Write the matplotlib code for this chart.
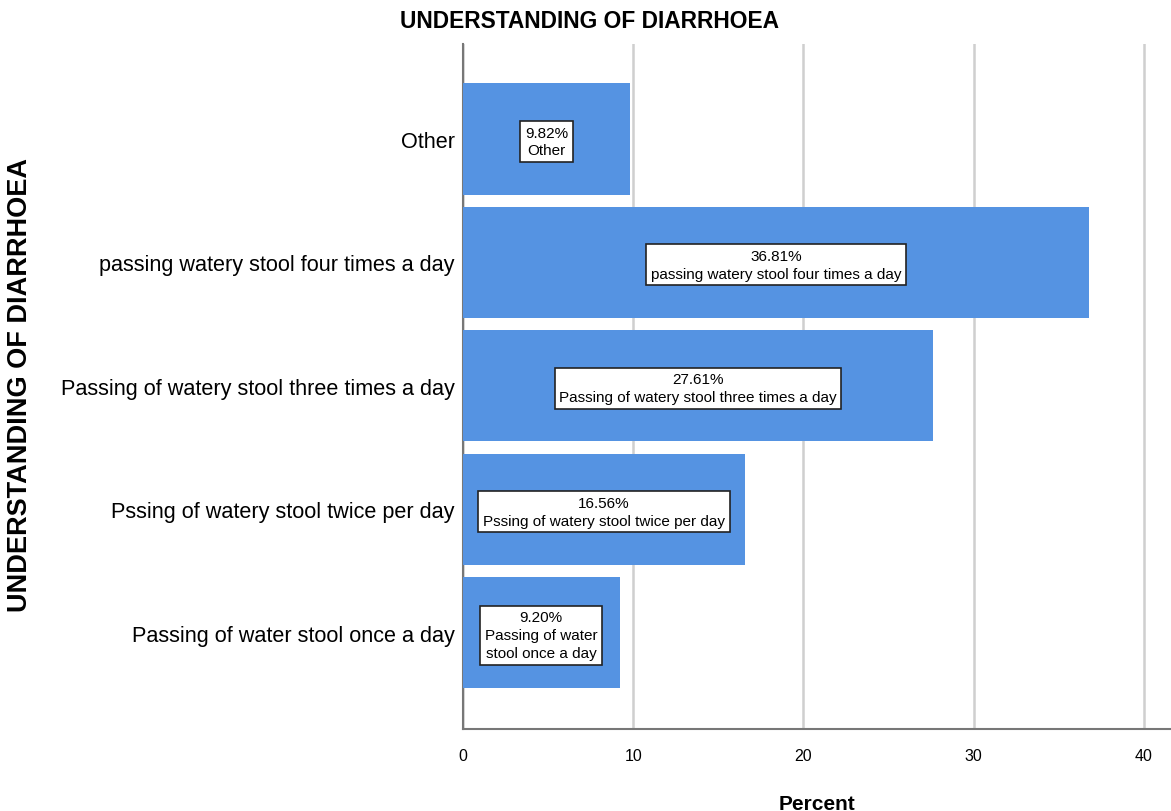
import matplotlib
matplotlib.use("Agg")
import matplotlib.pyplot as plt

categories = [
    "Passing of water stool once a day",
    "Pssing of watery stool twice per day",
    "Passing of watery stool three times a day",
    "passing watery stool four times a day",
    "Other",
]
box_labels = [
    "Passing of water\nstool once a day",
    "Pssing of watery stool twice per day",
    "Passing of watery stool three times a day",
    "passing watery stool four times a day",
    "Other",
]
percents = [9.20, 16.56, 27.61, 36.81, 9.82]
xticks = [0, 10, 20, 30, 40]

font = "Liberation Sans"

fig = plt.figure(figsize=(11.71, 8.12), dpi=100)
ax = fig.add_axes([463 / 1171, 1 - 730 / 812, (1171 - 463) / 1171, (730 - 45) / 812])

pos = list(range(len(categories)))
ax.barh(pos, percents, height=0.9, color="#5593E2", zorder=3)

for p, v, lab in zip(pos, percents, box_labels):
    ax.text(v / 2, p - 0.02, f"{v:.2f}%\n{lab}", ha="center", va="center",
            fontsize=11, family=font, zorder=4, linespacing=1.35,
            bbox=dict(boxstyle="square,pad=0.3", fc="white", ec="#222222", lw=1.2))

ax.set_xlim(0, 41.6)
ax.set_ylim(-0.78, 4.77)
ax.set_xticks(xticks)
ax.set_xticklabels([str(t) for t in xticks], family=font, fontsize=11.5)
ax.set_yticks(pos)
ax.set_yticklabels(categories, family=font, fontsize=15.6)
ax.tick_params(axis="both", length=0)
ax.tick_params(axis="x", pad=14)
ax.tick_params(axis="y", pad=6)

ax.grid(axis="x", color="#cfcfcf", lw=1.8, zorder=0)
ax.set_axisbelow(True)
for s in ("top", "right"):
    ax.spines[s].set_visible(False)
for s in ("left", "bottom"):
    ax.spines[s].set_color("#777777")
    ax.spines[s].set_linewidth(1.5)

ax.set_xlabel("Percent", family=font, fontsize=15, fontweight="bold", labelpad=22)
fig.text(20 / 1171, 1 - 385 / 812, "UNDERSTANDING OF DIARRHOEA", rotation=90,
         ha="center", va="center", family=font, fontsize=19.5, fontweight="bold")
fig.text(590 / 1171, 1 - 22 / 812, "UNDERSTANDING OF DIARRHOEA", ha="center",
         va="center", family=font, fontsize=16.4, fontweight="bold")

fig.savefig("out.png", dpi=100)
